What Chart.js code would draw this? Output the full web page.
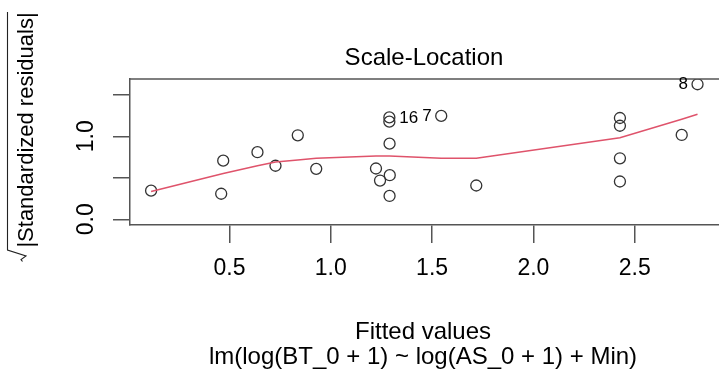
<!DOCTYPE html>
<html>
<head>
<meta charset="utf-8">
<script src="https://cdn.jsdelivr.net/npm/chart.js@4.4.1/dist/chart.umd.min.js"></script>
<style>
  html, body { margin: 0; padding: 0; background: #fff; overflow: hidden; }
  #wrap { width: 719px; height: 376px; position: relative; }
</style>
</head>
<body>
<div id="wrap"><canvas id="c" width="719" height="376"></canvas></div>
<script>
// Fitted values and sqrt(|standardized residuals|) of the model
const fittedValues = [0.113, 0.459, 0.469, 0.638, 0.727, 0.837, 0.928, 1.223, 1.243, 1.291, 1.290,
                      1.290, 1.289, 1.289, 1.545, 1.718, 2.427, 2.427, 2.427, 2.427, 2.732, 2.810];
const sqrtAbsStdResid = [0.345, 0.308, 0.706, 0.808, 0.645, 1.012, 0.608, 0.612, 0.467, 0.531, 0.281,
                         0.911, 1.176, 1.227, 1.245, 0.407, 0.735, 0.455, 1.127, 1.220, 1.016, 1.627];

// Smoother through the points (evaluated at the sorted fitted values)
const smoothX = [0.113, 0.459, 0.469, 0.638, 0.727, 0.837, 0.928, 1.223, 1.243, 1.290, 1.545, 1.718, 2.427, 2.732, 2.810];
const smoothY = [0.335, 0.546, 0.552, 0.646, 0.690, 0.714, 0.735, 0.763, 0.763, 0.763, 0.735, 0.735, 0.983, 1.205, 1.265];

// Observations flagged with their ids
const flaggedIndex = [13, 14, 21];
const flaggedLabel = ['16', '7', '8'];

// Axis ticks
const xTicks = [0.5, 1.0, 1.5, 2.0, 2.5];
const xTickLabels = ['0.5', '1.0', '1.5', '2.0', '2.5'];
const yTicks = [0.0, 0.5, 1.0, 1.5];
const yTickLabels = ['0.0', '', '1.0', ''];

const FONT = "'Liberation Sans', Arial, sans-serif";
const AXIS_GREY = '#555555';

const frameAndText = {
  id: 'frameAndText',
  afterDraw(chart) {
    const ctx = chart.ctx;
    const area = chart.chartArea;
    const xs = chart.scales.x, ys = chart.scales.y;
    ctx.save();

    // top edge of the plotting box
    ctx.strokeStyle = AXIS_GREY;
    ctx.lineWidth = 1.5;
    ctx.beginPath();
    ctx.moveTo(area.left, area.top);
    ctx.lineTo(area.right, area.top);
    ctx.stroke();

    ctx.fillStyle = '#000';
    ctx.textAlign = 'center';
    ctx.textBaseline = 'alphabetic';

    ctx.font = '24px ' + FONT;
    ctx.fillText('Scale-Location', 424, 65);
    ctx.fillText('Fitted values', 423, 339);
    ctx.fillText('lm(log(BT_0 + 1) ~ log(AS_0 + 1) + Min)', 423, 364);

    // y-axis title: sqrt(|Standardized residuals|)
    ctx.save();
    ctx.translate(33, 130);
    ctx.rotate(-Math.PI / 2);
    ctx.font = '22px ' + FONT;
    ctx.fillText('|Standardized residuals|', 0, 0);
    ctx.restore();
    ctx.strokeStyle = '#222';
    ctx.lineWidth = 1.1;
    ctx.beginPath();
    ctx.moveTo(7.5, 12);
    ctx.lineTo(7.5, 250);
    ctx.lineTo(26, 256);
    ctx.lineTo(21, 259.5);
    ctx.lineTo(22.5, 261.5);
    ctx.stroke();

    // ids next to the flagged points
    ctx.font = '17px ' + FONT;
    ctx.textBaseline = 'middle';
    const mid = (xs.min + xs.max) / 2;
    flaggedIndex.forEach((idx, k) => {
      const fx = fittedValues[idx];
      const px = xs.getPixelForValue(fx);
      const py = ys.getPixelForValue(sqrtAbsStdResid[idx]);
      if (fx < mid) {
        ctx.textAlign = 'left';
        ctx.fillText(flaggedLabel[k], px + 10, py + 0.5);
      } else {
        ctx.textAlign = 'right';
        ctx.fillText(flaggedLabel[k], px - 9.5, py + 0.5);
      }
    });
    ctx.restore();
  }
};

new Chart(document.getElementById('c'), {
  data: {
    datasets: [
      {
        type: 'line',
        order: 0,
        data: smoothX.map((x, i) => ({ x: x, y: smoothY[i] })),
        borderColor: '#DF536B',
        borderWidth: 1.5,
        pointRadius: 0,
        tension: 0,
        fill: false
      },
      {
        type: 'scatter',
        order: 1,
        data: fittedValues.map((x, i) => ({ x: x, y: sqrtAbsStdResid[i] })),
        pointRadius: 5.5,
        pointBorderWidth: 1.3,
        borderColor: '#333333',
        backgroundColor: 'rgba(0,0,0,0)',
        pointBackgroundColor: 'rgba(0,0,0,0)'
      }
    ]
  },
  options: {
    responsive: false,
    devicePixelRatio: 1,
    animation: false,
    events: [],
    layout: { autoPadding: false, padding: { top: 79, left: 0, right: 0, bottom: 0 } },
    plugins: { legend: { display: false }, tooltip: { enabled: false }, title: { display: false } },
    scales: {
      x: {
        type: 'linear',
        position: 'bottom',
        min: 0.0089,
        max: 2.916,
        afterBuildTicks: s => { s.ticks = xTicks.map(v => ({ value: v })); },
        afterFit: s => { s.height = 151; },
        ticks: {
          autoSkip: false,
          maxRotation: 0,
          minRotation: 0,
          padding: 12,
          color: '#000',
          font: { family: FONT, size: 23 },
          callback: v => xTickLabels[xTicks.indexOf(v)]
        },
        grid: { drawOnChartArea: false, tickLength: 18, color: AXIS_GREY, lineWidth: 1.5 },
        border: { display: true, color: AXIS_GREY, width: 1.5 }
      },
      y: {
        type: 'linear',
        position: 'left',
        min: -0.0687,
        max: 1.690,
        afterBuildTicks: s => { s.ticks = yTicks.map(v => ({ value: v })); },
        afterFit: s => { s.width = 130; },
        ticks: {
          autoSkip: false,
          minRotation: 90,
          maxRotation: 90,
          crossAlign: 'center',
          padding: 10,
          color: '#000',
          font: { family: FONT, size: 23 },
          callback: v => yTickLabels[yTicks.indexOf(v)]
        },
        grid: { drawOnChartArea: false, tickLength: 17, color: AXIS_GREY, lineWidth: 1.5 },
        border: { display: true, color: AXIS_GREY, width: 1.5 }
      }
    }
  },
  plugins: [frameAndText]
});
</script>
</body>
</html>
